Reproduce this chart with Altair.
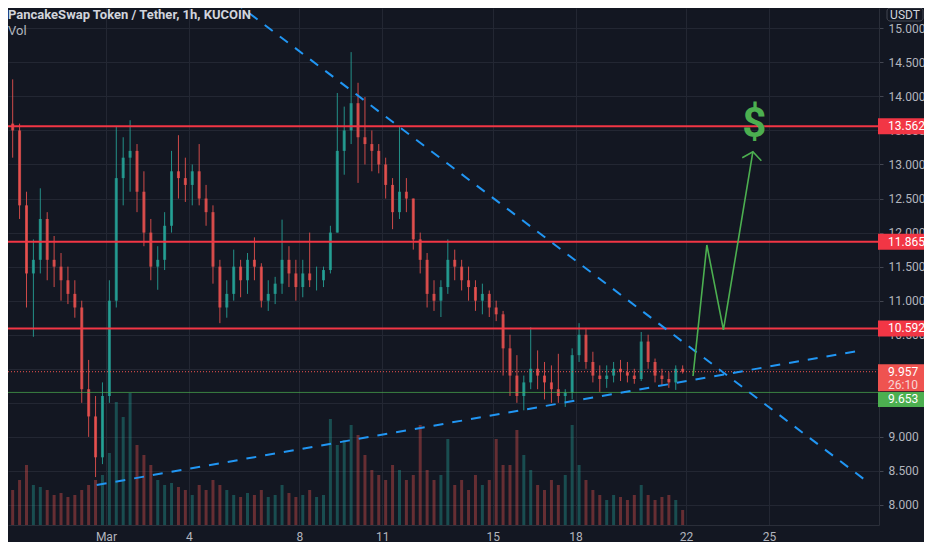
import altair as alt
import numpy as np
import pandas as pd

# ---------------- data (6-hour candles) ----------------
start = "2021-02-25 09:00"
opens = [13.3, 13.6, 13.5, 12.4, 11.4, 11.6, 12.2, 11.6, 11.5, 11.3,
         11.1, 10.9, 9.7, 9.3, 8.7, 9.6, 11.0, 12.8, 13.1, 13.2,
         12.6, 12.0, 11.5, 11.6, 12.1, 12.9, 12.8, 12.7, 12.9, 12.5,
         12.3, 11.5, 10.9, 11.1, 11.5, 11.3, 11.6, 11.5, 11.0, 11.1,
         11.25, 11.6, 11.4, 11.2, 11.4, 11.3, 11.3, 11.45, 12.0, 13.2,
         13.5, 13.9, 13.4, 13.3, 13.2, 13.0, 12.7, 12.3, 12.6, 12.5,
         11.9, 11.6, 11.1, 11.0, 11.2, 11.6, 11.5, 11.3, 11.2, 11.0,
         11.1, 10.9, 10.8, 10.3, 9.9, 9.6, 9.8, 10.0, 9.9, 9.8,
         9.7, 9.6, 9.65, 10.2, 10.5, 10.1, 9.9, 9.85, 9.9, 10.0,
         9.95, 9.9, 9.85, 10.4, 10.1, 9.9, 9.85, 9.8, 10.0]
closes = [13.6, 13.5, 12.4, 11.4, 11.6, 12.2, 11.6, 11.5, 11.3, 11.1,
          10.9, 9.7, 9.3, 8.7, 9.6, 11.0, 12.8, 13.1, 13.2, 12.6,
          12.0, 11.5, 11.6, 12.1, 12.9, 12.8, 12.7, 12.9, 12.5, 12.3,
          11.5, 10.9, 11.1, 11.5, 11.3, 11.6, 11.5, 11.0, 11.1, 11.25,
          11.6, 11.4, 11.2, 11.4, 11.3, 11.3, 11.45, 12.0, 13.2, 13.5,
          13.9, 13.4, 13.3, 13.2, 13.0, 12.7, 12.3, 12.6, 12.5, 11.9,
          11.6, 11.1, 11.0, 11.2, 11.6, 11.5, 11.3, 11.2, 11.0, 11.1,
          10.9, 10.8, 10.3, 9.9, 9.6, 9.8, 10.0, 9.9, 9.8, 9.7,
          9.6, 9.65, 10.2, 10.5, 10.1, 9.9, 9.85, 9.9, 10.0, 9.95,
          9.9, 9.85, 10.4, 10.1, 9.9, 9.85, 9.8, 10.0, 9.957]
highs = [13.95, 14.25, 13.6, 12.6, 11.9, 12.65, 12.3, 11.95, 11.7, 11.5,
         11.3, 11.0, 10.13, 9.6, 9.8, 11.3, 13.55, 13.4, 13.65, 13.3,
         12.9, 12.2, 11.8, 12.3, 13.2, 13.43, 13.1, 13.0, 13.3, 12.7,
         12.4, 11.6, 11.3, 11.75, 11.6, 11.7, 11.93, 11.55, 11.3, 11.35,
         12.19, 11.8, 11.6, 11.6, 12.0, 11.5, 11.5, 12.1, 14.05, 13.85,
         14.65, 14.2, 13.99, 13.5, 13.3, 13.1, 12.8, 13.55, 12.8, 12.5,
         12.0, 11.7, 11.3, 11.3, 11.9, 11.75, 11.6, 11.5, 11.3, 11.25,
         11.15, 11.0, 10.85, 10.5, 10.2, 9.9, 10.61, 10.27, 10.1, 10.05,
         10.22, 9.7, 10.3, 10.67, 10.6, 10.25, 10.05, 10.05, 10.1, 10.13,
         10.1, 10.0, 10.54, 10.5, 10.15, 10.0, 9.95, 10.05, 10.05]
lows = [12.9, 13.1, 12.2, 10.9, 10.47, 11.4, 11.3, 11.2, 11.0, 10.95,
        10.75, 9.5, 9.0, 8.41, 8.6, 9.5, 10.9, 12.4, 12.6, 12.3,
        11.8, 11.3, 11.16, 11.45, 12.0, 12.5, 12.45, 12.4, 12.4, 12.1,
        11.25, 10.67, 10.75, 11.0, 11.05, 11.1, 11.3, 10.9, 10.85, 10.95,
        11.1, 11.2, 11.0, 11.05, 11.2, 11.15, 11.2, 11.4, 12.0, 12.85,
        13.3, 12.73, 13.0, 12.9, 12.87, 12.5, 12.05, 12.2, 12.3, 11.75,
        11.4, 10.9, 10.85, 10.76, 11.1, 11.3, 11.15, 11.0, 10.85, 10.8,
        10.76, 10.7, 9.9, 9.6, 9.5, 9.39, 9.7, 9.7, 9.55, 9.5,
        9.5, 9.44, 9.55, 10.1, 10.0, 9.8, 9.66, 9.72, 9.8, 9.82,
        9.8, 9.78, 9.82, 10.0, 9.8, 9.75, 9.72, 9.69, 9.93]
volumes = [30, 35, 45, 60, 40, 38, 35, 30, 32, 28,
           30, 35, 40, 45, 50, 72, 123, 108, 132, 80,
           70, 60, 45, 40, 42, 38, 35, 30, 40, 35,
           45, 40, 35, 30, 28, 32, 30, 35, 28, 30,
           40, 32, 28, 30, 35, 28, 30, 106, 80, 85,
           100, 90, 70, 55, 50, 45, 60, 55, 45, 50,
           100, 55, 45, 50, 86, 40, 45, 35, 50, 40,
           45, 86, 60, 60, 95, 70, 55, 40, 35, 45,
           40, 50, 100, 60, 45, 35, 30, 25, 30, 28,
           25, 30, 40, 30, 25, 28, 30, 25, 15]

res_levels = [13.562, 11.865, 10.592]
sup_level = [9.653]
last_price = [9.957]
countdown = "26:10"

trend_id = ["down", "down", "up", "up"]
trend_t = ["2021-03-05 15:38", "2021-03-28 11:28", "2021-02-28 16:00", "2021-03-28 09:45"]
trend_p = [15.386, 8.367, 8.294, 10.276]

zig_id = ["path", "path", "path", "path", "head", "head", "head"]
zig_k = [0, 1, 2, 3, 0, 1, 2]
zig_t = ["2021-03-22 06:00", "2021-03-22 18:00", "2021-03-23 08:24", "2021-03-24 10:00",
         "2021-03-24 00:45", "2021-03-24 10:00", "2021-03-24 17:20"]
zig_p = [9.894, 11.818, 10.570, 13.188, 13.10, 13.188, 13.056]

dollar_t = ["2021-03-24 11:17"]
dollar_p = [13.595]

price_ticks = [8.0, 8.5, 9.0, 9.5, 10.0, 10.5, 11.0, 11.5, 12.0, 12.5, 13.0, 13.5, 14.0, 14.5, 15.0]
hidden_ticks = [9.5, 10.0]  # fully covered by the price boxes in the picture
date_ticks = [1, 4, 8, 11, 15, 18, 22, 25]

title_txt = "PancakeSwap Token / Tether, 1h, KUCOIN"

# ---------------- tables ----------------
times = pd.date_range(start, periods=len(opens), freq="6h")
cdf = pd.DataFrame({"t": times, "o": opens, "h": highs, "l": lows, "c": closes, "v": volumes})
cdf["dir"] = np.where(cdf["c"] >= cdf["o"], "up", "down")

tdf = pd.DataFrame({"t": pd.to_datetime(trend_t), "p": trend_p, "id": trend_id})
zdf = pd.DataFrame({"t": pd.to_datetime(zig_t), "p": zig_p, "id": zig_id, "k": zig_k})
ddf = pd.DataFrame({"t": pd.to_datetime(dollar_t), "p": dollar_p, "s": ["$"]})
rdf = pd.DataFrame({"p": res_levels})
gdf = pd.DataFrame({"p": sup_level})
ldf = pd.DataFrame({"p": last_price, "cd": [countdown]})

# ---------------- styling ----------------
BG = "#131722"
GRID = "#232733"
AXC = "#b2b5be"
FONT = "Roboto"
UP, DOWN = "#26a69a", "#ef5350"
RED = "#f23645"
GREEN = "#4caf50"
BLUE = "#2196f3"

xscale = alt.Scale(domain=[alt.DateTime(year=2021, month=2, date=25, hours=15, minutes=17),
                           alt.DateTime(year=2021, month=3, date=28, hours=19, minutes=12)])
yscale = alt.Scale(domain=[7.706, 15.298], zero=False, nice=False)

hide_expr = " || ".join(f"datum.value == {v}" for v in hidden_ticks)

xaxis = alt.Axis(values=[alt.DateTime(year=2021, month=3, date=d) for d in date_ticks],
                 labelExpr="date(datum.value) == 1 ? 'Mar' : timeFormat(datum.value, '%-d')",
                 grid=True, gridColor=GRID, gridWidth=1, ticks=False, tickSize=0,
                 labelPadding=6, labelColor=AXC, labelFontSize=12, labelFont=FONT,
                 labelOverlap=False, domainColor="#2a2e39", labelBaseline="top")
yaxis = alt.Axis(orient="right", values=price_ticks, format=".3f", grid=True, gridColor=GRID,
                 labelExpr=f"({hide_expr}) ? '' : datum.label",
                 tickSize=4, tickColor="#434651", labelPadding=5, labelColor=AXC,
                 labelFontSize=12, labelFont=FONT, labelOverlap=False, domainColor="#2a2e39")


def X(field="t"):
    return alt.X(f"{field}:T", scale=xscale, axis=xaxis, title=None)


def Y(field):
    return alt.Y(f"{field}:Q", scale=yscale, axis=yaxis, title=None)


dir_color = alt.Color("dir:N", scale=alt.Scale(domain=["up", "down"], range=[UP, DOWN]), legend=None)

base = alt.Chart(cdf)

vol = base.mark_bar(size=3, opacity=0.38, clip=True).encode(
    x=X(), y=alt.Y("v:Q", scale=alt.Scale(domain=[0, 517]), axis=None, title=None), color=dir_color)

wicks = base.mark_rule(strokeWidth=1, clip=True, opacity=0.85).encode(
    x=X(), y=Y("l"), y2=alt.Y2("h"), color=dir_color)
bodies = base.mark_bar(size=3, clip=True, opacity=0.8).encode(
    x=X(), y=Y("o"), y2=alt.Y2("c"), color=dir_color)

res_rules = alt.Chart(rdf).mark_rule(color=RED, strokeWidth=2).encode(y=Y("p"))
sup_rule = alt.Chart(gdf).mark_rule(color=GREEN, strokeWidth=1, opacity=0.7).encode(y=Y("p"))
last_rule = alt.Chart(ldf).mark_rule(color=DOWN, strokeWidth=1, strokeDash=[1, 2]).encode(y=Y("p"))

trends = alt.Chart(tdf).mark_line(color=BLUE, strokeWidth=2, strokeDash=[10, 9], clip=True).encode(
    x=X(), y=Y("p"), detail="id:N")
zig = alt.Chart(zdf).mark_line(color=GREEN, strokeWidth=1.6).encode(
    x=X(), y=Y("p"), detail="id:N", order="k:O")
dollar = alt.Chart(ddf).mark_text(fontSize=42, fontWeight="bold", color=GREEN, font=FONT,
                                  align="center", baseline="middle").encode(
    x=X(), y=Y("p"), text="s:N")

# price label boxes on the right scale
res_box = alt.Chart(rdf).mark_rule(color=RED, strokeWidth=16).encode(
    x=alt.value(870), x2=alt.value(921), y=Y("p"))
res_txt = alt.Chart(rdf).mark_text(align="left", baseline="middle", color="white",
                                   fontSize=12, font=FONT).encode(
    x=alt.value(880), y=Y("p"), text=alt.Text("p:Q", format=".3f"))
last_box = alt.Chart(ldf).mark_rule(color=DOWN, strokeWidth=27, yOffset=6).encode(
    x=alt.value(870), x2=alt.value(921), y=Y("p"))
last_txt = alt.Chart(ldf).mark_text(align="left", baseline="middle", color="white",
                                    fontSize=12, font=FONT).encode(
    x=alt.value(880), y=Y("p"), text=alt.Text("p:Q", format=".3f"))
cd_txt = alt.Chart(ldf).mark_text(align="left", baseline="middle", color="#f7d6d6",
                                  fontSize=12, font=FONT, dy=13).encode(
    x=alt.value(880), y=Y("p"), text="cd:N")
sup_box = alt.Chart(gdf).mark_rule(color=GREEN, strokeWidth=15, yOffset=7).encode(
    x=alt.value(870), x2=alt.value(921), y=Y("p"))
sup_txt = alt.Chart(gdf).mark_text(align="left", baseline="middle", color="white",
                                   fontSize=12, font=FONT, dy=7).encode(
    x=alt.value(880), y=Y("p"), text=alt.Text("p:Q", format=".3f"))

hdr = pd.DataFrame({"s": [title_txt], "v": ["Vol"], "u": ["USDT"]})
title_mark = alt.Chart(hdr).mark_text(align="left", baseline="middle", color="#d1d4dc",
                                      fontSize=13, fontWeight="bold", font=FONT).encode(
    x=alt.value(0), y=alt.value(7), text="s:N")
vol_mark = alt.Chart(hdr).mark_text(align="left", baseline="middle", color=AXC,
                                    fontSize=13, font=FONT).encode(
    x=alt.value(0), y=alt.value(23), text="v:N")
usdt_box = alt.Chart(hdr).mark_rect(fill=BG, stroke="#434651", strokeWidth=1, cornerRadius=3).encode(
    x=alt.value(879), x2=alt.value(915), y=alt.value(0), y2=alt.value(13))
usdt_txt = alt.Chart(hdr).mark_text(align="center", baseline="middle", color="#d1d4dc",
                                    fontSize=12, font=FONT).encode(
    x=alt.value(897), y=alt.value(6.5), text="u:N")

price_layer = alt.layer(
    wicks, bodies, res_rules, sup_rule, last_rule, trends, zig, dollar,
    res_box, last_box, sup_box, res_txt, last_txt, cd_txt, sup_txt,
    title_mark, vol_mark, usdt_box, usdt_txt,
)

chart = alt.layer(vol, price_layer).resolve_scale(y="independent").properties(
    width=871, height=517,
    autosize=alt.AutoSizeParams(type="none"),
    padding={"left": 0, "top": 0, "right": 45, "bottom": 17},
).configure(background=BG, font=FONT).configure_view(strokeWidth=0)

chart.save("out.html", embed_options={"renderer": "svg", "actions": False})
